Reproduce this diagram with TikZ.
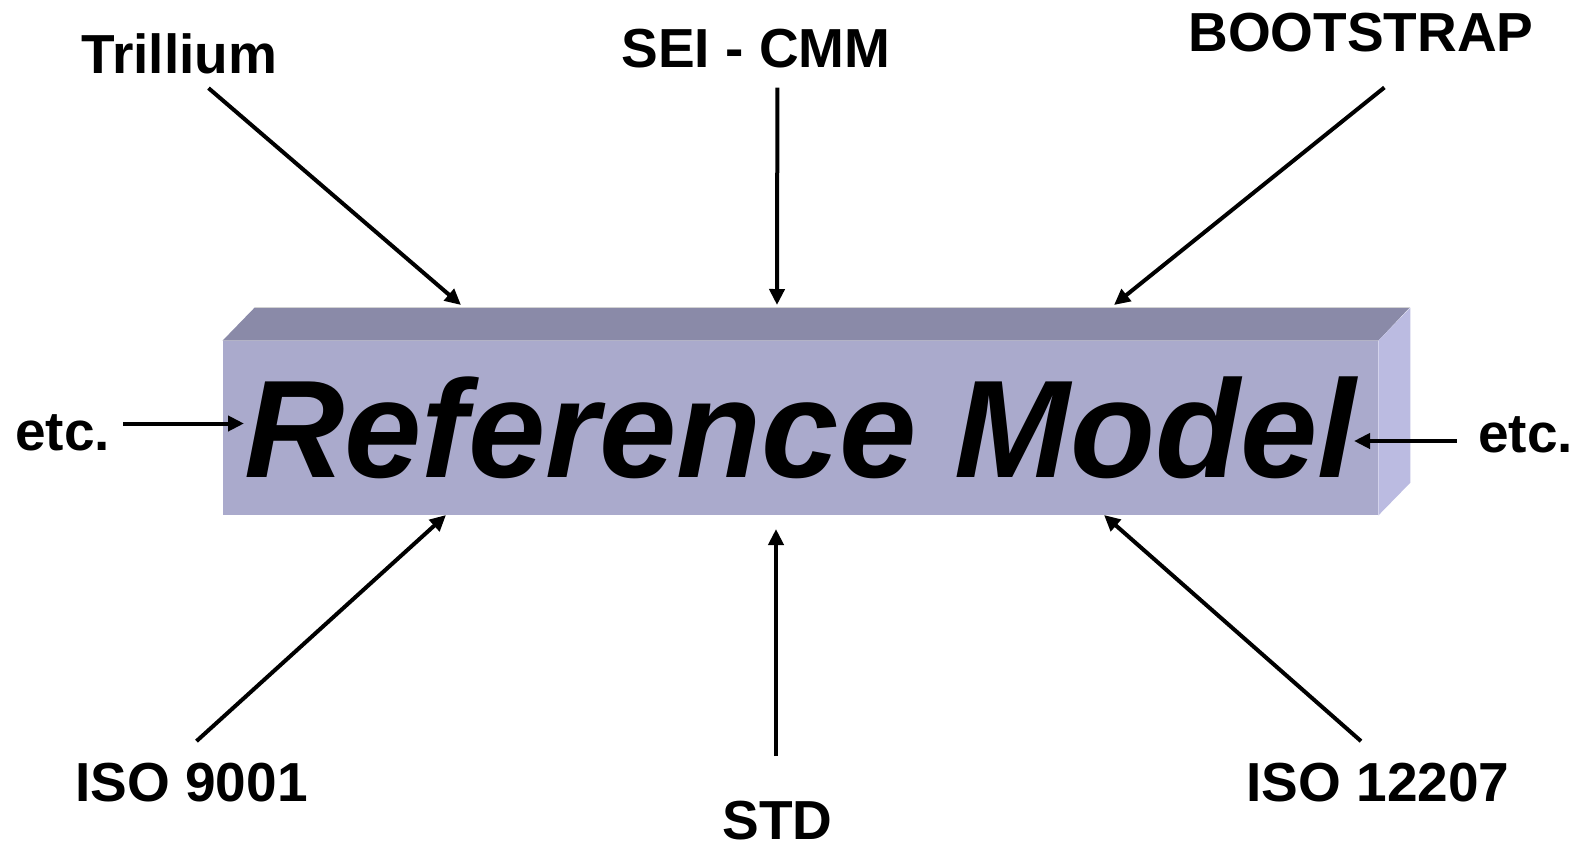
\documentclass[tikz,border=0pt]{standalone}
\usepackage{fontspec}
\setmainfont{Liberation Sans}
\usetikzlibrary{arrows.meta}
\definecolor{frontface}{RGB}{170,170,204}
\definecolor{topface}{RGB}{138,138,168}
\definecolor{sideface}{RGB}{187,187,225}

\begin{document}
\begin{tikzpicture}[x = 0.5pt , y = -0.5pt ,
    lbl/.style = {font = \fontsize{27.5pt}{30pt}\selectfont\bfseries , inner sep = 2pt},
    feed/.style = {line width = 2pt , -{Triangle[length = 8pt , width = 7.5pt]}}]
    \useasboundingbox (0,0) rectangle (1581,852);
    % Μπλοκ
    \node[fill = frontface , minimum width = 577.5pt , minimum height = 87pt , inner sep = 0pt ,
        font = \fontsize{69.5pt}{80pt}\selectfont\bfseries\itshape] (model) at (800.5,428) {Reference Model};
    \fill[topface] (model.north west) -- ++(32,-33) -- ++(1155,0) -- (model.north east) -- cycle;
    \fill[sideface] (model.north east) -- ++(32,-33) -- ++(0,175) -- (model.south east) -- cycle;
    \draw[gray!35 , line width = 0.6pt] (model.north west) ++(32,-33) -- ++(1155,0);
    % Ετικέτες
    \node[lbl] (trill) at (179.5,53.5) {Trillium};
    \node[lbl] (sei) at (756,48.5) {SEI - CMM};
    \node[lbl] (boot) at (1361,33) {BOOTSTRAP};
    \node[lbl] (etcl) at (62.5,433) {etc.};
    \node[lbl] (etcr) at (1525.5,434.5) {etc.};
    \node[lbl] (isoa) at (191.5,783) {ISO 9001};
    \node[lbl] (std) at (777.5,821) {STD};
    \node[lbl] (isob) at (1378,783) {ISO 12207};
    % Άκρα βελών
    \coordinate (trillend) at (461,305);
    \coordinate (seiend) at (777,305);
    \coordinate (bootend) at (1114,305);
    \coordinate (etclend) at (244,423.5);
    \coordinate (etcrend) at (1354,441);
    \coordinate (isoaend) at (446,515);
    \coordinate (stdend) at (776,529);
    \coordinate (isobend) at (1104,515);
    % Βέλη
    \draw[feed] ([xshift = 14.5pt , yshift = -5pt]trill.south) -- (trillend);
    \draw[feed] ([xshift = 10.7pt , yshift = -7.6pt]sei.south) -- (seiend);
    \draw[feed] ([xshift = 11.7pt , yshift = -15.3pt]boot.south) -- (bootend);
    \draw[feed] ([xshift = 4.5pt , yshift = 4.75pt]etcl.east) -- (etclend);
    \draw[feed] ([xshift = -8.5pt , yshift = -3.25pt]etcr.west) -- (etcrend);
    \draw[feed] ([xshift = 2.5pt , yshift = 9pt]isoa.north) -- (isoaend);
    \draw[feed] ([xshift = -0.75pt , yshift = 20.5pt]std.north) -- (stdend);
    \draw[feed] ([xshift = -8.5pt , yshift = 9pt]isob.north) -- (isobend);
\end{tikzpicture}
\end{document}
